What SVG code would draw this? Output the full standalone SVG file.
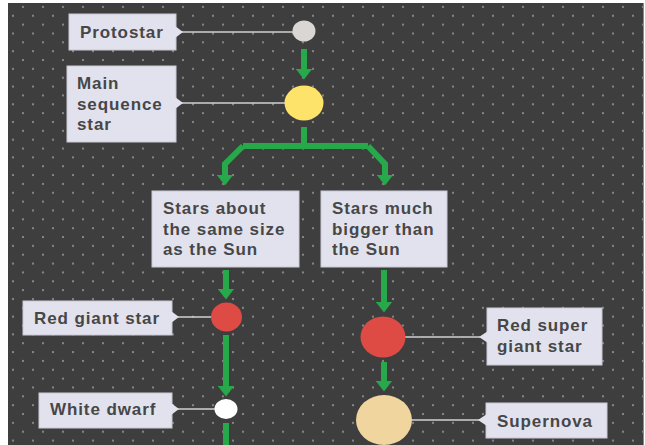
<svg xmlns="http://www.w3.org/2000/svg" width="645" height="445" viewBox="0 0 645 445">
  <style>
    .box { fill: #e2e2ee; stroke: #c9c9d6; stroke-width: 1; }
    .lbl { font-family: "Liberation Sans", Arial, sans-serif; font-weight: bold; font-size: 17px; letter-spacing: 0.9px; fill: #474747; }
    .lead { stroke: #d2d2d2; stroke-width: 1.5; fill: none; }
    .flow { stroke: #27a84a; stroke-width: 6; fill: none; stroke-linejoin: miter; }
  </style>
  <defs>
    <pattern id="dots" patternUnits="userSpaceOnUse" x="0" y="0" width="20" height="17.7">
      <circle cx="3" cy="7" r="1.1" fill="#929292"/>
      <circle cx="13" cy="15.85" r="1.1" fill="#929292"/>
    </pattern>
    <marker id="head" markerUnits="userSpaceOnUse" viewBox="0 0 11 17" markerWidth="11" markerHeight="17" refX="0.5" refY="8.5" orient="auto">
      <path d="M0,0 L11,8.5 L0,17 Z" fill="#27a84a"/>
    </marker>
  </defs>

  <!-- backdrop -->
  <rect x="0" y="0" width="645" height="445" fill="#ffffff"/>
  <rect x="8" y="3" width="635" height="442" fill="#3e3e3e"/>
  <rect x="8" y="3" width="635" height="442" fill="url(#dots)"/>
  <line x1="643.5" y1="3" x2="643.5" y2="445" stroke="#8a8a8a" stroke-width="1"/>

  <!-- flow arrows -->
  <g id="connectors">
    <line class="flow" x1="304" y1="49" x2="304" y2="69" marker-end="url(#head)"/>
    <path class="flow" d="M304,127 V146"/>
    <path class="flow" d="M243,146 H368"/>
    <path class="flow" d="M243,146 L225,164 V175" marker-end="url(#head)"/>
    <path class="flow" d="M368,146 L385,164 V175" marker-end="url(#head)"/>
    <line class="flow" x1="226" y1="270" x2="226" y2="289" marker-end="url(#head)"/>
    <line class="flow" x1="226" y1="335" x2="226" y2="386" marker-end="url(#head)"/>
    <line class="flow" x1="226" y1="423" x2="226" y2="446"/>
    <line class="flow" x1="384" y1="270" x2="384" y2="302" marker-end="url(#head)"/>
    <line class="flow" x1="384" y1="362" x2="384" y2="381" marker-end="url(#head)"/>
  </g>

  <!-- stages -->
  <g id="protostar">
    <line class="lead" x1="180" y1="32" x2="294" y2="32"/>
    <rect class="box" x="69" y="14" width="107" height="36"/>
    <path d="M175,26 L183,32 L175,38 Z" fill="#e2e2ee"/>
    <ellipse cx="304" cy="31" rx="11.5" ry="10.5" fill="#d9d6d3"/>
    <text class="lbl" x="80" y="38">Protostar</text>
  </g>

  <g id="main-sequence">
    <line class="lead" x1="180" y1="103" x2="286" y2="103"/>
    <rect class="box" x="67" y="66" width="109" height="76"/>
    <path d="M175,97 L183,103 L175,109 Z" fill="#e2e2ee"/>
    <ellipse cx="304" cy="103" rx="19.5" ry="17.5" fill="#fde36a"/>
    <text class="lbl" x="77" y="89">Main</text>
    <text class="lbl" x="77" y="109.5">sequence</text>
    <text class="lbl" x="77" y="130">star</text>
  </g>

  <g id="sun-sized">
    <rect class="box" x="152" y="191" width="147" height="76"/>
    <text class="lbl" x="163" y="214">Stars about</text>
    <text class="lbl" x="163" y="234.5">the same size</text>
    <text class="lbl" x="163" y="255">as the Sun</text>
  </g>

  <g id="much-bigger">
    <rect class="box" x="321" y="191" width="126" height="76"/>
    <text class="lbl" x="332" y="214">Stars much</text>
    <text class="lbl" x="332" y="234.5">bigger than</text>
    <text class="lbl" x="332" y="255">the Sun</text>
  </g>

  <g id="red-giant">
    <line class="lead" x1="178" y1="317" x2="212" y2="317"/>
    <rect class="box" x="23" y="301" width="149" height="34"/>
    <path d="M171,311 L179,317 L171,323 Z" fill="#e2e2ee"/>
    <ellipse cx="226.5" cy="317" rx="15.5" ry="14.5" fill="#de4b44"/>
    <text class="lbl" x="34" y="323.5">Red giant star</text>
  </g>

  <g id="white-dwarf">
    <line class="lead" x1="178" y1="409" x2="215" y2="409"/>
    <rect class="box" x="39" y="393" width="133" height="35"/>
    <path d="M171,403 L179,409 L171,415 Z" fill="#e2e2ee"/>
    <ellipse cx="226" cy="409" rx="11.5" ry="10" fill="#ffffff"/>
    <text class="lbl" x="50" y="414.5">White dwarf</text>
  </g>

  <g id="red-super-giant">
    <line class="lead" x1="405" y1="337" x2="480" y2="337"/>
    <rect class="box" x="487" y="308" width="115" height="57"/>
    <path d="M488,331 L479,337 L488,343 Z" fill="#e2e2ee"/>
    <ellipse cx="383" cy="337" rx="22.5" ry="20.5" fill="#de4b44"/>
    <text class="lbl" x="497" y="331">Red super</text>
    <text class="lbl" x="497" y="351.5">giant star</text>
  </g>

  <g id="supernova">
    <line class="lead" x1="411" y1="420" x2="480" y2="420"/>
    <rect class="box" x="486" y="403" width="121" height="35"/>
    <path d="M487,414 L478,420 L487,426 Z" fill="#e2e2ee"/>
    <ellipse cx="384" cy="420" rx="28" ry="25" fill="#f0d59e"/>
    <text class="lbl" x="497" y="426.5">Supernova</text>
  </g>
</svg>
